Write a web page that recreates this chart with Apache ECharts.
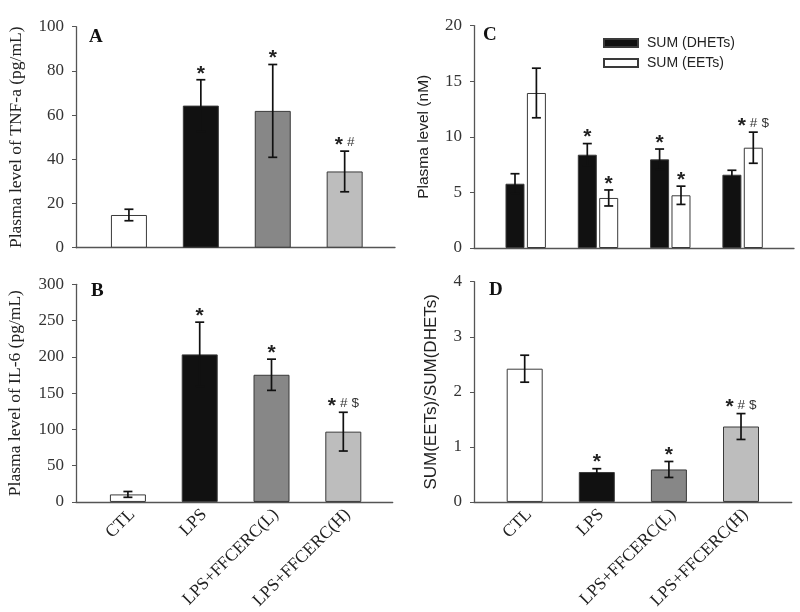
<!DOCTYPE html>
<html>
<head>
<meta charset="utf-8">
<script src="https://cdn.jsdelivr.net/npm/echarts@6/dist/echarts.min.js"></script>
<style>
html,body{margin:0;padding:0;background:#fff;}
#chart{width:800px;height:612px;}
</style>
</head>
<body>
<div id="chart"></div>
<script>
// ---------- data ----------
const categories = ['CTL', 'LPS', 'LPS+FFCERC(L)', 'LPS+FFCERC(H)'];
const groupColors = ['#ffffff', '#111111', '#878787', '#bdbdbd'];

const tnfMean = [14.8, 64.3, 61.9, 34.5];
const tnfErr = [2.6, 11.7, 21.0, 9.2];
const tnfMarks = ['', '*', '*', '*#'];

const il6Mean = [10.4, 203.4, 175.3, 96.9];
const il6Err = [4.0, 44.4, 21.5, 26.7];
const il6Marks = ['', '*', '*', '*#$'];

const dhetMean = [5.78, 8.39, 7.97, 6.59];
const dhetErr = [0.9, 1.0, 0.93, 0.4];
const dhetMarks = ['', '*', '*', ''];

const eetMean = [13.94, 4.5, 4.74, 9.02];
const eetErr = [2.23, 0.72, 0.82, 1.4];
const eetMarks = ['', '*', '*', '*#$'];

const ratioMean = [2.42, 0.544, 0.59, 1.37];
const ratioErr = [0.245, 0.06, 0.145, 0.235];
const ratioMarks = ['', '*', '*', '*#$'];

const yTicksA = {min: 0, max: 100, interval: 20};
const yTicksB = {min: 0, max: 300, interval: 50};
const yTicksC = {min: 0, max: 20, interval: 5};
const yTicksD = {min: 0, max: 4, interval: 1};

// ---------- styling ----------
const SERIF = 'Liberation Serif';
const SANS = 'Liberation Sans';
const AXIS_COLOR = '#555';
const TEXT_COLOR = '#222';
const ERR_COLOR = '#111111';
const LABEL_SHIFT = 0.06; // small rightward nudge of the rotated category labels

const chart = echarts.init(document.getElementById('chart'), null, {renderer: 'canvas'});

function xAxisDef(gridIndex, min, max, showLabels) {
  return {
    type: 'value', gridIndex: gridIndex, min: min, max: max,
    splitLine: {show: false},
    axisTick: {show: false},
    axisLine: {show: true, lineStyle: {color: AXIS_COLOR, width: 1.3}},
    axisLabel: {
      show: showLabels,
      customValues: categories.map(function (c, i) { return i + LABEL_SHIFT; }),
      formatter: function (v) { return categories[Math.round(v)] || ''; },
      rotate: 45, margin: 10,
      fontFamily: SERIF, fontSize: 17.5, color: TEXT_COLOR
    }
  };
}

function yAxisDef(gridIndex, ticks, name, nameFont, nameSize, nameGap) {
  return {
    type: 'value', gridIndex: gridIndex,
    min: ticks.min, max: ticks.max, interval: ticks.interval,
    name: name, nameLocation: 'middle', nameGap: nameGap,
    nameTextStyle: {fontFamily: nameFont, fontSize: nameSize, color: TEXT_COLOR},
    splitLine: {show: false},
    axisLine: {show: true, onZero: false, lineStyle: {color: AXIS_COLOR, width: 1.3}},
    axisTick: {show: true, inside: false, length: 4, lineStyle: {color: AXIS_COLOR}},
    axisLabel: {margin: 12, fontFamily: SERIF, fontSize: 17, color: '#333'}
  };
}

function markRich(marks) {
  if (!marks) return '';
  let s = '';
  for (const ch of marks) {
    s += ch === '*' ? '{st|*}' : '{sm|' + ch + '}';
  }
  return s;
}

function errorRender(dx, marksArr) {
  return function (params, api) {
    const x = api.value(0), v = api.value(1), e = api.value(2), idx = api.value(3);
    const top = api.coord([x, v + e]);
    const bot = api.coord([x, v - e]);
    const cx = top[0] + dx;
    const cap = 4.5;
    const st = {stroke: ERR_COLOR, lineWidth: 1.7, opacity: 1};
    const children = [
      {type: 'line', shape: {x1: cx, y1: top[1], x2: cx, y2: bot[1]}, style: st},
      {type: 'line', shape: {x1: cx - cap, y1: top[1], x2: cx + cap, y2: top[1]}, style: st},
      {type: 'line', shape: {x1: cx - cap, y1: bot[1], x2: cx + cap, y2: bot[1]}, style: st}
    ];
    const m = marksArr[idx];
    if (m) {
      children.push({
        type: 'text',
        style: {
          x: cx, y: top[1] - 6,
          text: markRich(m),
          align: 'center', verticalAlign: 'middle',
          rich: {
            st: {fontFamily: SANS, fontWeight: 'bold', fontSize: 21, fill: '#222', verticalAlign: 'middle'},
            sm: {fontFamily: SANS, fontSize: 13.5, fill: '#333', padding: [0, 0, 5, 4], verticalAlign: 'middle'}
          }
        }
      });
    }
    return {type: 'group', children: children};
  };
}

function barData(means) {
  return means.map(function (v, i) {
    return {value: [i, v], itemStyle: {color: groupColors[i]}};
  });
}
function errData(means, errs) {
  return means.map(function (v, i) { return [i, v, errs[i], i]; });
}

const barBorder = {borderColor: '#3a3a3a', borderWidth: 1};

const option = {
  animation: false,
  backgroundColor: '#ffffff',
  title: [
    {text: 'A', left: 89, top: 28, padding: 0, textStyle: {fontFamily: SERIF, fontWeight: 'bold', fontSize: 19, color: '#111'}},
    {text: 'B', left: 91, top: 282, padding: 0, textStyle: {fontFamily: SERIF, fontWeight: 'bold', fontSize: 19, color: '#111'}},
    {text: 'C', left: 483, top: 26, padding: 0, textStyle: {fontFamily: SERIF, fontWeight: 'bold', fontSize: 19, color: '#111'}},
    {text: 'D', left: 489, top: 281, padding: 0, textStyle: {fontFamily: SERIF, fontWeight: 'bold', fontSize: 19, color: '#111'}}
  ],
  legend: {
    data: ['SUM (DHETs)', 'SUM (EETs)'],
    orient: 'vertical', left: 603, top: 36, padding: 0,
    icon: 'rect', itemWidth: 34, itemHeight: 8, itemGap: 6,
    textStyle: {fontFamily: SANS, fontSize: 14, color: TEXT_COLOR, padding: [0, 0, 0, 4]}
  },
  grid: [
    {left: 76, top: 26.7, width: 319, height: 221},
    {left: 76, top: 284.3, width: 316.7, height: 220.7},
    {left: 474, top: 25.6, width: 320, height: 222.4},
    {left: 474, top: 281.7, width: 317.7, height: 220.6}
  ],
  xAxis: [
    xAxisDef(0, -0.736, 3.70, false),
    xAxisDef(1, -0.723, 3.688, true),
    xAxisDef(2, -0.715, 3.711, false),
    xAxisDef(3, -0.703, 3.703, true)
  ],
  yAxis: [
    yAxisDef(0, yTicksA, 'Plasma level of TNF-a (pg/mL)', SERIF, 17.5, 51),
    yAxisDef(1, yTicksB, 'Plasma level of IL-6 (pg/mL)', SERIF, 17.5, 52),
    yAxisDef(2, yTicksC, 'Plasma level (nM)', SANS, 15.5, 42),
    yAxisDef(3, yTicksD, 'SUM(EETs)/SUM(DHETs)', SANS, 17, 34)
  ],
  series: [
    {type: 'bar', name: 'TNF', xAxisIndex: 0, yAxisIndex: 0, barWidth: 36, itemStyle: barBorder, data: barData(tnfMean)},
    {type: 'custom', xAxisIndex: 0, yAxisIndex: 0, clip: false, z: 5, renderItem: errorRender(0, tnfMarks), data: errData(tnfMean, tnfErr)},

    {type: 'bar', name: 'IL6', xAxisIndex: 1, yAxisIndex: 1, barWidth: 36, itemStyle: barBorder, data: barData(il6Mean)},
    {type: 'custom', xAxisIndex: 1, yAxisIndex: 1, clip: false, z: 5, renderItem: errorRender(0, il6Marks), data: errData(il6Mean, il6Err)},

    {type: 'bar', name: 'SUM (DHETs)', xAxisIndex: 2, yAxisIndex: 2, barWidth: 19, barGap: '12.6%',
      itemStyle: {color: '#111111', borderColor: '#3a3a3a', borderWidth: 1},
      data: dhetMean.map(function (v, i) { return [i, v]; })},
    {type: 'bar', name: 'SUM (EETs)', xAxisIndex: 2, yAxisIndex: 2, barWidth: 19, barGap: '12.6%',
      itemStyle: {color: '#ffffff', borderColor: '#3a3a3a', borderWidth: 1},
      data: eetMean.map(function (v, i) { return [i, v]; })},
    {type: 'custom', xAxisIndex: 2, yAxisIndex: 2, clip: false, z: 5, renderItem: errorRender(-10.7, dhetMarks), data: errData(dhetMean, dhetErr)},
    {type: 'custom', xAxisIndex: 2, yAxisIndex: 2, clip: false, z: 5, renderItem: errorRender(10.7, eetMarks), data: errData(eetMean, eetErr)},

    {type: 'bar', name: 'Ratio', xAxisIndex: 3, yAxisIndex: 3, barWidth: 36, itemStyle: barBorder, data: barData(ratioMean)},
    {type: 'custom', xAxisIndex: 3, yAxisIndex: 3, clip: false, z: 5, renderItem: errorRender(0, ratioMarks), data: errData(ratioMean, ratioErr)}
  ]
};

chart.setOption(option);
</script>
</body>
</html>
